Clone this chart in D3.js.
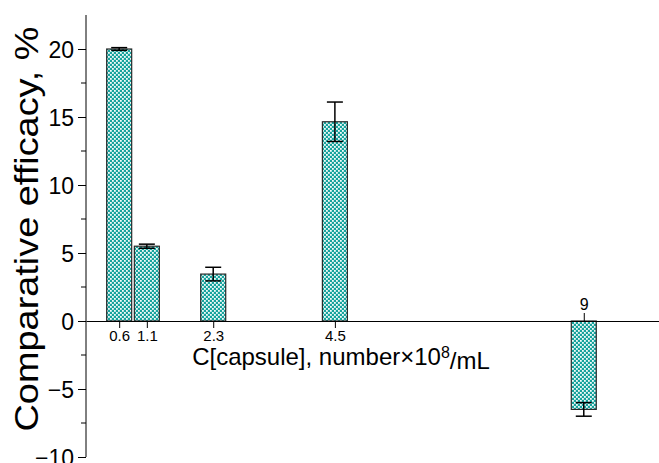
<!DOCTYPE html>
<html>
<head>
<meta charset="utf-8">
<script src="https://cdn.jsdelivr.net/npm/d3@7"></script>
<style>
  body { margin: 0; background: #fff; }
  #graph { width: 659px; height: 463px; }
  text { font-family: Arial, "Liberation Sans", sans-serif; fill: #000; }
</style>
</head>
<body>
<div id="graph"></div>
<script>
// data
var concentrations = [0.6, 1.1, 2.3, 4.5, 9];
var tickLabels = ["0.6", "1.1", "2.3", "4.5", "9"];
var efficacy = [20.0, 5.5, 3.45, 14.65, -6.5];
var errors = [0.1, 0.15, 0.5, 1.45, 0.5];
var yMajorTicks = [-10, -5, 0, 5, 10, 15, 20];

var width = 659, height = 463;

// scales
var x = d3.scaleLinear()
    .domain([0, 10.36])
    .range([86, 659]);
var y = d3.scaleLinear()
    .domain([-10, 20])
    .range([457, 49]);

var barW = 25;

var svg = d3.select("#graph")
    .append("svg")
    .attr("width", width)
    .attr("height", height);

// checker fill like the Origin pattern
var defs = svg.append("defs");
var pat = defs.append("pattern")
    .attr("id", "hatch")
    .attr("patternUnits", "userSpaceOnUse")
    .attr("width", 4)
    .attr("height", 4);
pat.append("rect").attr("width", 4).attr("height", 4).attr("fill", "#17a39d");
pat.append("rect").attr("x", 0).attr("y", 0).attr("width", 1.8).attr("height", 1.8).attr("fill", "#f2fbfa");
pat.append("rect").attr("x", 2).attr("y", 2).attr("width", 1.8).attr("height", 1.8).attr("fill", "#f2fbfa");

var data = concentrations.map(function(c, i) {
  return {c: c, v: efficacy[i], e: errors[i], label: tickLabels[i]};
});

// bars
svg.selectAll("rect.bar")
    .data(data)
    .enter()
    .append("rect")
    .attr("class", "bar")
    .attr("x", function(d) { return x(d.c) - barW / 2; })
    .attr("y", function(d) { return y(Math.max(0, d.v)); })
    .attr("width", barW)
    .attr("height", function(d) { return Math.abs(y(d.v) - y(0)); })
    .attr("fill", "url(#hatch)")
    .attr("stroke", "#2a2a2a")
    .attr("stroke-width", 1.2);

// y axis
var yaxis = svg.append("g")
    .attr("transform", "translate(" + x(0) + ",0)")
    .call(d3.axisLeft(y)
      .tickValues(yMajorTicks)
      .tickSize(8)
      .tickPadding(4)
      .tickFormat(d3.format("d")));
yaxis.select(".domain").attr("d", "M0," + 15 + "V" + y(-10));
yaxis.selectAll("text").style("font-size", "23px").attr("dy", "0.36em");

// minor ticks
svg.append("g")
    .selectAll("line")
    .data(d3.range(-7.5, 22, 5))
    .enter()
    .append("line")
    .attr("x1", x(0) - 5)
    .attr("x2", x(0))
    .attr("y1", function(d) { return y(d); })
    .attr("y2", function(d) { return y(d); })
    .attr("stroke", "#000");

// x axis: ticks below for positive bars, above for the negative one
var pos = data.filter(function(d) { return d.v >= 0; });
var neg = data.filter(function(d) { return d.v < 0; });

var xaxis = svg.append("g")
    .attr("transform", "translate(0," + y(0) + ")")
    .call(d3.axisBottom(x)
      .tickValues(pos.map(function(d) { return d.c; }))
      .tickFormat(function(d, i) { return pos[i].label; })
      .tickSize(7)
      .tickPadding(2)
      .tickSizeOuter(0));
xaxis.selectAll("text").style("font-size", "15px");

var xaxisTop = svg.append("g")
    .attr("transform", "translate(0," + y(0) + ")")
    .call(d3.axisTop(x)
      .tickValues(neg.map(function(d) { return d.c; }))
      .tickFormat(function(d, i) { return neg[i].label; })
      .tickSize(8)
      .tickPadding(3)
      .tickSizeOuter(0));
xaxisTop.select(".domain").remove();
xaxisTop.selectAll("text").style("font-size", "16px");

// error bars
var eb = svg.append("g").attr("stroke", "#000").attr("stroke-width", 1.5);
eb.selectAll("line.whisker")
    .data(data)
    .enter()
    .append("line")
    .attr("x1", function(d) { return x(d.c); })
    .attr("x2", function(d) { return x(d.c); })
    .attr("y1", function(d) { return y(d.v - d.e); })
    .attr("y2", function(d) { return y(d.v + d.e); });
eb.selectAll("line.capTop")
    .data(data)
    .enter()
    .append("line")
    .attr("x1", function(d) { return x(d.c) - 8; })
    .attr("x2", function(d) { return x(d.c) + 8; })
    .attr("y1", function(d) { return y(d.v + d.e); })
    .attr("y2", function(d) { return y(d.v + d.e); });
eb.selectAll("line.capBot")
    .data(data)
    .enter()
    .append("line")
    .attr("x1", function(d) { return x(d.c) - 8; })
    .attr("x2", function(d) { return x(d.c) + 8; })
    .attr("y1", function(d) { return y(d.v - d.e); })
    .attr("y2", function(d) { return y(d.v - d.e); });

// axis titles
svg.append("text")
    .attr("transform", "translate(38," + 229 + ") rotate(-90)")
    .attr("text-anchor", "middle")
    .attr("textLength", 405)
    .attr("lengthAdjust", "spacingAndGlyphs")
    .style("font-size", "33px")
    .text("Comparative efficacy, %");

var xl = svg.append("text")
    .attr("x", 341)
    .attr("y", 365)
    .attr("text-anchor", "middle")
    .style("font-size", "24px");
xl.append("tspan").text("C[capsule], number\u00d710");
xl.append("tspan").attr("dy", "-0.45em").style("font-size", "16px").text("8");
xl.append("tspan").attr("dy", "0.45em").text("/mL");
</script>
</body>
</html>
